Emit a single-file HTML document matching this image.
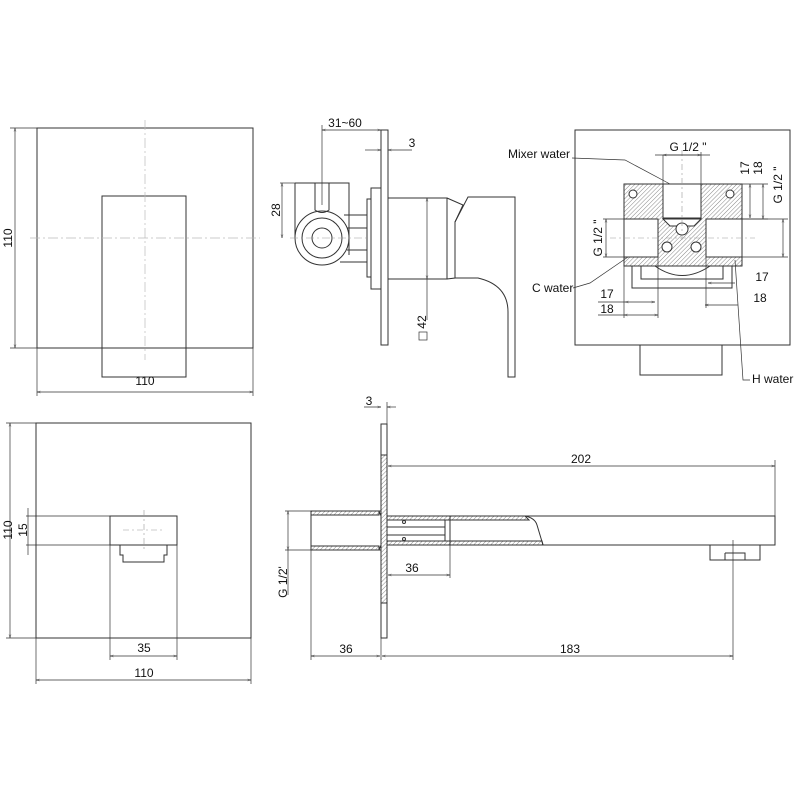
<!DOCTYPE html>
<html><head><style>body{margin:0;background:#fff}svg{display:block}text{font-family:"Liberation Sans",sans-serif;font-size:12px;fill:#111}</style></head>
<body>
<svg width="800" height="800" viewBox="0 0 800 800" xmlns="http://www.w3.org/2000/svg">
<defs>
<marker id="a" viewBox="0 0 10 10" refX="10" refY="5" markerWidth="7" markerHeight="5" orient="auto-start-reverse"><path d="M0,2L10,5L0,8" fill="none" stroke="#333" stroke-width="1"/></marker>
<pattern id="h" width="3" height="3" patternUnits="userSpaceOnUse" patternTransform="rotate(45)"><line x1="0" y1="0" x2="0" y2="3" stroke="#888" stroke-width="1"/></pattern>
</defs>
<g fill="none" stroke="#333" stroke-width="1">
<!-- top left -->
<rect x="37" y="128" width="216" height="220"/>
<rect x="102" y="196" width="84" height="181"/>
<g stroke="#bbb" stroke-dasharray="10,3,2,3" stroke-width="0.7"><line x1="145" y1="120" x2="145" y2="360"/><line x1="30" y1="238" x2="260" y2="238"/></g>
<g stroke-width="0.7"><line x1="15" y1="128" x2="15" y2="348" marker-start="url(#a)" marker-end="url(#a)"/><line x1="10" y1="128" x2="37" y2="128"/><line x1="10" y1="348" x2="37" y2="348"/>
<line x1="37" y1="392" x2="253" y2="392" marker-start="url(#a)" marker-end="url(#a)"/><line x1="37" y1="348" x2="37" y2="396"/><line x1="253" y1="348" x2="253" y2="396"/></g>
<!-- top middle -->
<rect x="381" y="130" width="7" height="215"/>
<rect x="371" y="188" width="10" height="101"/>
<rect x="367" y="199" width="4" height="78"/>
<rect x="388" y="198" width="59" height="81"/>
<path d="M447,198 L463,205 L455,222 L455,278 L447,279"/>
<path d="M468,197 L515,197 L515,377 L508,377 L508,312 Q508,285 478,278 L455,278 L455,222 Z"/>
<path d="M295,183 L349,183 L349,255 M295,183 L295,238"/>
<circle cx="322" cy="238" r="27" fill="#fff"/>
<circle cx="322" cy="238" r="20"/>
<circle cx="322" cy="238" r="10"/>
<path d="M315,183 L315,210 Q322,215 329,210 L329,183"/>
<path d="M344,215 L367,215 M347,228 L367,228 M347,250 L367,250 M340,262 L367,262"/>
<line x1="290" y1="238" x2="370" y2="238" stroke="#999" stroke-dasharray="8,3,2,3" stroke-width="0.6"/>
<g stroke-width="0.7"><line x1="322" y1="130" x2="381" y2="130" marker-start="url(#a)" marker-end="url(#a)"/><line x1="322" y1="125" x2="322" y2="205"/>
<line x1="365" y1="150" x2="381" y2="150" marker-end="url(#a)"/><line x1="388" y1="150" x2="412" y2="150" marker-start="url(#a)"/><line x1="388" y1="140" x2="388" y2="155"/>
<line x1="282" y1="183" x2="282" y2="238" marker-start="url(#a)" marker-end="url(#a)"/><line x1="280" y1="183" x2="295" y2="183"/>
<line x1="427" y1="198" x2="427" y2="279" marker-start="url(#a)" marker-end="url(#a)"/><line x1="427" y1="279" x2="427" y2="320"/>
<rect x="419" y="332" width="8" height="8"/></g>
<!-- top right -->
<rect x="575" y="130" width="215" height="215"/>
<rect x="640" y="345" width="82" height="30"/>
<path d="M624,184 L742,184 L742,266 L624,266 Z" fill="url(#h)"/>
<rect x="663" y="184" width="38" height="34" fill="#fff"/>
<rect x="624" y="219" width="34" height="38" fill="#fff"/>
<rect x="706" y="219" width="36" height="38" fill="#fff"/>
<path d="M663,219 L701,219 L694,226 L670,226 Z" fill="#fff"/>
<circle cx="633" cy="194" r="4" fill="#fff"/><circle cx="730" cy="194" r="4" fill="#fff"/>
<circle cx="682" cy="229" r="6" fill="#fff"/><circle cx="667" cy="247" r="5" fill="#fff"/><circle cx="696" cy="247" r="5" fill="#fff"/>
<path d="M655,266 Q682,285 710,266"/>
<rect x="632" y="266" width="100" height="22"/>
<rect x="641" y="266" width="82" height="13"/>
<g stroke="#999" stroke-dasharray="6,3,2,3" stroke-width="0.6"><line x1="682" y1="150" x2="682" y2="240"/><line x1="610" y1="238" x2="755" y2="238"/></g>
<g stroke-width="0.7">
<line x1="663" y1="155" x2="701" y2="155" marker-start="url(#a)" marker-end="url(#a)"/><line x1="663" y1="155" x2="663" y2="184"/><line x1="701" y1="152" x2="701" y2="184"/><line x1="655" y1="155" x2="710" y2="155"/>
<polyline points="572,158 625,160 670,184"/>
<line x1="750" y1="184" x2="750" y2="218" marker-start="url(#a)" marker-end="url(#a)"/><line x1="763" y1="184" x2="763" y2="219" marker-start="url(#a)" marker-end="url(#a)"/><line x1="742" y1="219" x2="768" y2="219"/><line x1="742" y1="184" x2="768" y2="184"/>
<line x1="783" y1="219" x2="783" y2="257" marker-start="url(#a)" marker-end="url(#a)"/><line x1="742" y1="257" x2="788" y2="257"/><line x1="742" y1="219" x2="788" y2="219"/>
<line x1="606" y1="219" x2="606" y2="257" marker-start="url(#a)" marker-end="url(#a)"/><line x1="603" y1="219" x2="624" y2="219"/><line x1="603" y1="257" x2="624" y2="257"/>
<polyline points="573,288 590,283 628,257"/>
<line x1="625" y1="302" x2="655" y2="302" marker-start="url(#a)" marker-end="url(#a)"/><line x1="624" y1="315" x2="658" y2="315" marker-start="url(#a)" marker-end="url(#a)"/><line x1="598" y1="302" x2="625" y2="302"/><line x1="598" y1="315" x2="624" y2="315"/>
<line x1="624" y1="266" x2="624" y2="318"/><line x1="658" y1="257" x2="658" y2="318"/>
<line x1="708" y1="283" x2="735" y2="283" marker-start="url(#a)"/><line x1="705" y1="305" x2="738" y2="305" marker-start="url(#a)"/><line x1="706" y1="257" x2="706" y2="308"/>
<polyline points="735,260 743,380 750,380"/>
</g>
<!-- bottom left -->
<rect x="36" y="423" width="215" height="215"/>
<rect x="110" y="516" width="67" height="29"/>
<path d="M120,545 L120,555 L123,555 L123,562 L164,562 L164,555 L167,555 L167,545"/>
<g stroke="#999" stroke-dasharray="6,3,2,3" stroke-width="0.6"><line x1="144" y1="510" x2="144" y2="550"/><line x1="123" y1="530" x2="165" y2="530"/></g>
<g stroke-width="0.7">
<line x1="10" y1="423" x2="10" y2="638" marker-start="url(#a)" marker-end="url(#a)"/><line x1="6" y1="423" x2="36" y2="423"/><line x1="6" y1="638" x2="36" y2="638"/>
<line x1="28" y1="508" x2="28" y2="555"/><line x1="26" y1="516" x2="110" y2="516"/><line x1="26" y1="545" x2="110" y2="545"/>
<line x1="110" y1="545" x2="110" y2="660"/><line x1="177" y1="545" x2="177" y2="660"/><line x1="110" y1="656" x2="177" y2="656" marker-start="url(#a)" marker-end="url(#a)"/>
<line x1="36" y1="638" x2="36" y2="684"/><line x1="251" y1="638" x2="251" y2="684"/><line x1="36" y1="680" x2="251" y2="680" marker-start="url(#a)" marker-end="url(#a)"/>
</g>
<!-- bottom middle -->
<rect x="381" y="424" width="6" height="214"/>
<rect x="381" y="455" width="6" height="148" fill="url(#h)"/>
<rect x="311" y="511" width="70" height="39"/>
<rect x="311" y="511" width="68" height="4" fill="url(#h)"/>
<rect x="311" y="546" width="68" height="4" fill="url(#h)"/>
<path d="M379,511 L381,516 M379,550 L381,545"/>
<path d="M387,516 L775,516 L775,545 L387,545 Z"/>
<path d="M387,516 L525,516 L529,520 L387,520 Z" fill="url(#h)"/>
<path d="M387,541 L542,541 L543,545 L387,545 Z" fill="url(#h)"/>
<path d="M525,516 Q535,518 537,525 L543,545"/>
<path d="M387,527 L445,527 M387,535 L445,535 M445,520 L445,541 M450,516 L450,545"/>
<circle cx="404" cy="522" r="1.5"/><circle cx="404" cy="539" r="1.5"/>
<path d="M710,545 L710,560 L760,560 L760,545 M725,553 L745,553 L745,560 M725,553 L725,560"/>
<g stroke-width="0.7">
<line x1="364" y1="407" x2="381" y2="407" marker-end="url(#a)"/><line x1="387" y1="407" x2="396" y2="407" marker-start="url(#a)"/><line x1="387" y1="402" x2="387" y2="424"/>
<line x1="388" y1="466" x2="775" y2="466" marker-start="url(#a)" marker-end="url(#a)"/><line x1="775" y1="460" x2="775" y2="516"/>
<line x1="388" y1="575" x2="450" y2="575" marker-start="url(#a)" marker-end="url(#a)"/><line x1="450" y1="545" x2="450" y2="578"/>
<line x1="288" y1="511" x2="288" y2="550" marker-start="url(#a)" marker-end="url(#a)"/><line x1="285" y1="511" x2="311" y2="511"/><line x1="285" y1="550" x2="311" y2="550"/><line x1="288" y1="550" x2="288" y2="595"/>
<line x1="311" y1="550" x2="311" y2="660"/><line x1="381" y1="638" x2="381" y2="660"/><line x1="733" y1="540" x2="733" y2="660"/>
<line x1="311" y1="656" x2="380" y2="656" marker-start="url(#a)" marker-end="url(#a)"/><line x1="382" y1="656" x2="733" y2="656" marker-start="url(#a)" marker-end="url(#a)"/>
</g>
</g>
<g>
<text x="8" y="238" text-anchor="middle" transform="rotate(-90 8 238)" dy="4">110</text>
<text x="145" y="385" text-anchor="middle">110</text>
<text x="345" y="127" text-anchor="middle">31~60</text>
<text x="412" y="147" text-anchor="middle">3</text>
<text x="276" y="210" text-anchor="middle" transform="rotate(-90 276 210)" dy="4">28</text>
<text x="422" y="322" text-anchor="middle" transform="rotate(-90 422 322)" dy="4">42</text>
<text x="508" y="158">Mixer water</text>
<text x="688" y="151" text-anchor="middle">G 1/2 "</text>
<text x="745" y="168" text-anchor="middle" transform="rotate(-90 745 168)" dy="4">17</text>
<text x="758" y="168" text-anchor="middle" transform="rotate(-90 758 168)" dy="4">18</text>
<text x="778" y="185" text-anchor="middle" transform="rotate(-90 778 185)" dy="4">G 1/2 "</text>
<text x="598" y="238" text-anchor="middle" transform="rotate(-90 598 238)" dy="4">G 1/2 "</text>
<text x="532" y="292">C water</text>
<text x="607" y="298" text-anchor="middle">17</text>
<text x="607" y="313" text-anchor="middle">18</text>
<text x="762" y="281" text-anchor="middle">17</text>
<text x="760" y="302" text-anchor="middle">18</text>
<text x="752" y="383">H water</text>
<text x="8" y="530" text-anchor="middle" transform="rotate(-90 8 530)" dy="4">110</text>
<text x="23" y="530" text-anchor="middle" transform="rotate(-90 23 530)" dy="4">15</text>
<text x="144" y="652" text-anchor="middle">35</text>
<text x="144" y="677" text-anchor="middle">110</text>
<text x="369" y="405" text-anchor="middle">3</text>
<text x="581" y="463" text-anchor="middle">202</text>
<text x="412" y="572" text-anchor="middle">36</text>
<text x="283" y="582" text-anchor="middle" transform="rotate(-90 283 582)" dy="4">G 1/2'</text>
<text x="346" y="653" text-anchor="middle">36</text>
<text x="570" y="653" text-anchor="middle">183</text>
</g>
</svg>
</body></html>
